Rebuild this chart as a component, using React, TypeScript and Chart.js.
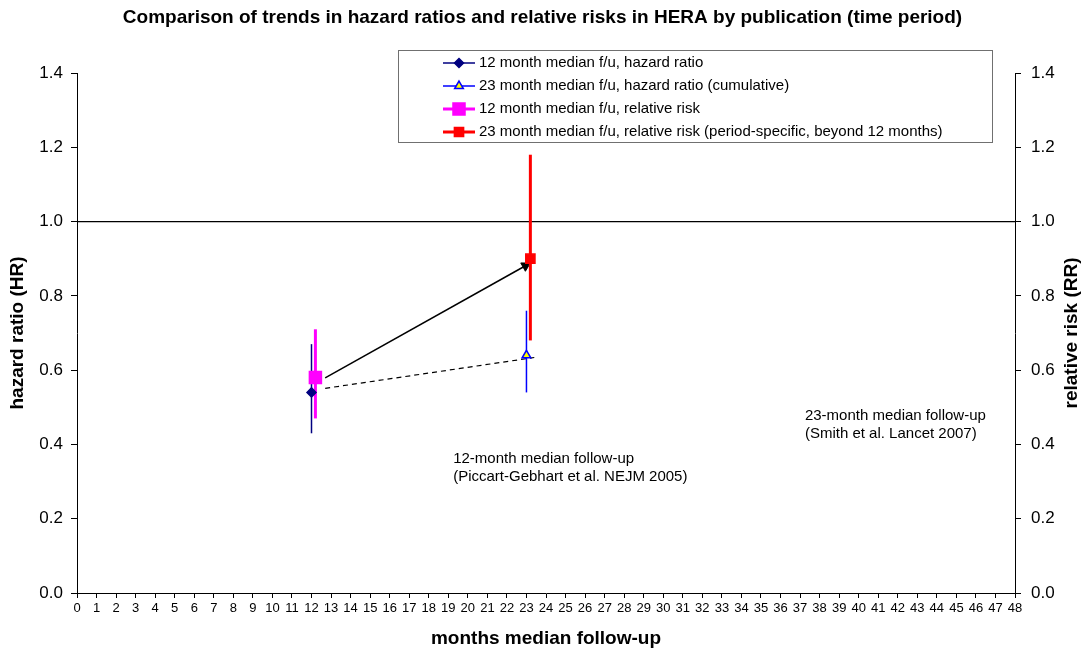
import React, { useEffect, useRef } from "react";
import { Chart, registerables } from "chart.js";

Chart.register(...registerables);

const FONT = '"Liberation Sans", Arial, Helvetica, sans-serif';

// ---- texts ----
const TITLE = "Comparison of trends in hazard ratios and relative risks in HERA by publication (time period)";
const X_TITLE = "months median follow-up";
const Y_TITLE = "hazard ratio (HR)";
const Y2_TITLE = "relative risk (RR)";

// ---- series (estimates with confidence intervals) ----
const SERIES_LABELS = [
  "12 month median f/u, hazard ratio",
  "23 month median f/u, hazard ratio (cumulative)",
  "12 month median f/u, relative risk",
  "23 month median f/u, relative risk (period-specific, beyond 12 months)",
];
const SERIES_MONTHS = [12, 23, 12.2, 23.2];
const SERIES_VALUES = [0.54, 0.64, 0.58, 0.9];
const CI_LOW = [0.43, 0.54, 0.47, 0.68];
const CI_HIGH = [0.67, 0.76, 0.71, 1.18];

// ---- trend connectors ----
const RR_TREND_MONTHS = [12.7, 22.95];
const RR_TREND_VALUES = [0.579, 0.881];
const HR_TREND_MONTHS = [12.7, 23.4];
const HR_TREND_VALUES = [0.551, 0.634];

// ---- reference line ----
const REF_MONTHS = [0, 48];
const REF_VALUES = [1.0, 1.0];

// ---- axis ranges ----
const X_MIN = 0;
const X_MAX = 48;
const X_STEP = 1;
const Y_MIN = 0;
const Y_MAX = 1.4;
const Y_STEP = 0.2;

// ---- notes ----
const NOTE_12_LINES = ["12-month median follow-up", "(Piccart-Gebhart et al. NEJM 2005)"];
const NOTE_12_POS = [19.25, 0.36];
const NOTE_23_LINES = ["23-month median follow-up", "(Smith et al. Lancet 2007)"];
const NOTE_23_POS = [37.25, 0.477];

// ---- styles ----
const COLORS = ["#000080", "#0000FF", "#FF00FF", "#FF0000"];
const POINT_STYLES = ["rectRot", "triangle", "rect", "rect"];
const POINT_RADII = [4.5, 5, 8.5, 6.5];
const POINT_FILLS = ["#000080", "#FFFF00", "#FF00FF", "#FF0000"];
const LINE_WIDTHS = [1.5, 1.5, 3, 3];

function drawMarker(ctx: CanvasRenderingContext2D, style: string, x: number, y: number, r: number, fill: string, stroke: string) {
  ctx.save();
  ctx.beginPath();
  if (style === "rect") {
    const s = Math.SQRT1_2 * r;
    ctx.rect(x - s, y - s, 2 * s, 2 * s);
  } else if (style === "rectRot") {
    ctx.moveTo(x, y - r);
    ctx.lineTo(x + r, y);
    ctx.lineTo(x, y + r);
    ctx.lineTo(x - r, y);
    ctx.closePath();
  } else if (style === "triangle") {
    let a = 0;
    ctx.moveTo(x + Math.sin(a) * r, y - Math.cos(a) * r);
    a += (2 * Math.PI) / 3;
    ctx.lineTo(x + Math.sin(a) * r, y - Math.cos(a) * r);
    a += (2 * Math.PI) / 3;
    ctx.lineTo(x + Math.sin(a) * r, y - Math.cos(a) * r);
    ctx.closePath();
  }
  ctx.fillStyle = fill;
  ctx.fill();
  ctx.strokeStyle = stroke;
  ctx.lineWidth = 1.5;
  ctx.stroke();
  ctx.restore();
}

const overlayPlugin = {
  id: "overlay",
  afterDraw(chart: any) {
    const ctx: CanvasRenderingContext2D = chart.ctx;
    const xs = chart.scales.x;
    const ys = chart.scales.y;
    const area = chart.chartArea;

    // right axis title (reads bottom to top, like the left one)
    ctx.save();
    ctx.font = `bold 19px ${FONT}`;
    ctx.fillStyle = "#000";
    ctx.textAlign = "center";
    ctx.textBaseline = "middle";
    ctx.translate(chart.width - 13, (area.top + area.bottom) / 2);
    ctx.rotate(-Math.PI / 2);
    ctx.fillText(Y2_TITLE, 0, 0);
    ctx.restore();

    // notes
    ctx.save();
    ctx.font = `15px ${FONT}`;
    ctx.fillStyle = "#000";
    ctx.textAlign = "left";
    ctx.textBaseline = "middle";
    const notes: [string[], number[]][] = [
      [NOTE_12_LINES, NOTE_12_POS],
      [NOTE_23_LINES, NOTE_23_POS],
    ];
    notes.forEach(([lines, pos]) => {
      const px = xs.getPixelForValue(pos[0]);
      const py = ys.getPixelForValue(pos[1]);
      lines.forEach((t, i) => ctx.fillText(t, px, py + i * 18));
    });
    ctx.restore();

    // legend box
    const boxL = 398, boxT = 50, boxR = 992, boxB = 142;
    ctx.save();
    ctx.fillStyle = "#fff";
    ctx.fillRect(boxL, boxT, boxR - boxL, boxB - boxT);
    ctx.strokeStyle = "#707070";
    ctx.lineWidth = 1;
    ctx.strokeRect(boxL + 0.5, boxT + 0.5, boxR - boxL, boxB - boxT);
    const legendItems = chart.data.datasets.filter((d: any) => d.inLegend);
    legendItems.forEach((d: any, i: number) => {
      const ry = 63 + i * 23;
      ctx.beginPath();
      ctx.strokeStyle = d.legendColor;
      ctx.lineWidth = d.legendWidth;
      ctx.moveTo(443, ry);
      ctx.lineTo(475, ry);
      ctx.stroke();
      drawMarker(ctx, d.pointStyle, 459, ry, d.pointRadius, d.pointBackgroundColor, d.pointBorderColor);
      ctx.font = `15px ${FONT}`;
      ctx.fillStyle = "#000";
      ctx.textAlign = "left";
      ctx.textBaseline = "middle";
      ctx.fillText(d.label, 479, ry);
    });
    ctx.restore();
  },
};

const pts = (xsArr: number[], ysArr: number[]) => xsArr.map((x, i) => ({ x, y: ysArr[i] }));

export default function App() {
  const ref = useRef<HTMLCanvasElement | null>(null);

  useEffect(() => {
    if (!ref.current) return;

    const markerSets: any[] = SERIES_LABELS.map((label, i) => ({
      label,
      inLegend: true,
      legendColor: COLORS[i],
      legendWidth: LINE_WIDTHS[i],
      data: [{ x: SERIES_MONTHS[i], y: SERIES_VALUES[i] }],
      showLine: false,
      pointStyle: POINT_STYLES[i],
      pointRadius: POINT_RADII[i],
      pointBackgroundColor: POINT_FILLS[i],
      pointBorderColor: COLORS[i],
      pointBorderWidth: 1.5,
      borderColor: COLORS[i],
    }));

    const ciSets: any[] = SERIES_LABELS.map((label, i) => ({
      label: label + " CI",
      data: [
        { x: SERIES_MONTHS[i], y: CI_LOW[i] },
        { x: SERIES_MONTHS[i], y: CI_HIGH[i] },
      ],
      borderColor: COLORS[i],
      borderWidth: LINE_WIDTHS[i],
      pointRadius: 0,
    }));

    const helperSets: any[] = [
      {
        label: "RR trend",
        data: pts(RR_TREND_MONTHS, RR_TREND_VALUES),
        borderColor: "#000",
        borderWidth: 1.5,
        pointRadius: [0, 5.5],
        pointStyle: "triangle",
        pointRotation: [0, 61],
        pointBackgroundColor: "#000",
        pointBorderColor: "#000",
        pointBorderWidth: 1,
      },
      {
        label: "HR trend",
        data: pts(HR_TREND_MONTHS, HR_TREND_VALUES),
        borderColor: "#000",
        borderWidth: 1.2,
        borderDash: [5, 4],
        pointRadius: 0,
      },
      {
        label: "reference",
        data: pts(REF_MONTHS, REF_VALUES),
        borderColor: "#000",
        borderWidth: 1.2,
        pointRadius: 0,
      },
    ];

    const tickFmt = (v: any) => Number(v).toFixed(1);

    const chart = new Chart(ref.current, {
      type: "line",
      data: { datasets: [...markerSets, ...ciSets, ...helperSets] },
      options: {
        animation: false,
        responsive: true,
        maintainAspectRatio: false,
        events: [],
        layout: { padding: 0 },
        plugins: {
          legend: { display: false },
          tooltip: { enabled: false },
          title: {
            display: true,
            text: TITLE,
            color: "#000",
            font: { family: FONT, size: 19, weight: "bold" },
            padding: { top: 6.6, bottom: 43.6 },
          },
        },
        scales: {
          x: {
            type: "linear",
            min: X_MIN,
            max: X_MAX,
            afterFit: (s: any) => { s.height = 60; },
            ticks: {
              stepSize: X_STEP,
              autoSkip: false,
              maxRotation: 0,
              color: "#000",
              padding: 3,
              font: { family: FONT, size: 13 },
            },
            grid: { drawOnChartArea: false, drawTicks: true, tickLength: 5, color: "#000" },
            border: { display: true, color: "#000", width: 1 },
            title: {
              display: true,
              text: X_TITLE,
              color: "#000",
              font: { family: FONT, size: 19, weight: "bold" },
              padding: { top: 0, bottom: 2.6 },
            },
          },
          y: {
            type: "linear",
            position: "left",
            min: Y_MIN,
            max: Y_MAX,
            afterFit: (s: any) => { s.width = 77; },
            ticks: {
              stepSize: Y_STEP,
              callback: tickFmt,
              color: "#000",
              padding: 8,
              font: { family: FONT, size: 17 },
            },
            grid: { drawOnChartArea: false, drawTicks: true, tickLength: 6, color: "#000" },
            border: { display: true, color: "#000", width: 1 },
            title: {
              display: true,
              text: Y_TITLE,
              color: "#000",
              font: { family: FONT, size: 19, weight: "bold" },
              padding: { top: 6.6, bottom: 0 },
            },
          },
          y1: {
            type: "linear",
            position: "right",
            min: Y_MIN,
            max: Y_MAX,
            afterFit: (s: any) => { s.width = 70; },
            ticks: {
              stepSize: Y_STEP,
              callback: tickFmt,
              color: "#000",
              padding: 10,
              font: { family: FONT, size: 17 },
            },
            grid: { drawOnChartArea: false, drawTicks: true, tickLength: 6, color: "#000" },
            border: { display: true, color: "#000", width: 1 },
          },
        },
      },
      plugins: [overlayPlugin],
    } as any);

    return () => chart.destroy();
  }, []);

  return (
    <div style={{ position: "fixed", left: 0, top: 0, width: 1085, height: 653, background: "#fff" }}>
      <canvas ref={ref} />
    </div>
  );
}
